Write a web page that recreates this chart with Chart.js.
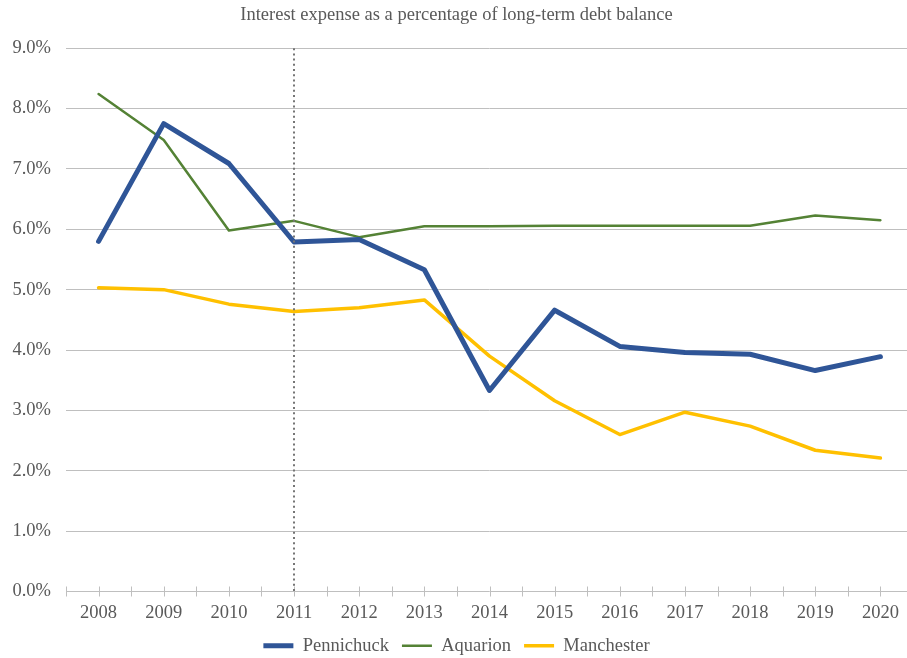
<!DOCTYPE html>
<html>
<head>
    <title>Interest expense</title>
    <script src="https://cdn.jsdelivr.net/npm/chart.js@4.4.0/dist/chart.umd.min.js"></script>
    <style>
        body { margin: 0; background: #fff; }
        #clip { width: 907px; height: 658px; overflow: hidden; }
        #box { width: 934px; height: 658px; position: relative; }
    </style>
</head>
<body>
    <div id="clip"><div id="box"><canvas id="rateChart"></canvas></div></div>

    <script>
        // data
        var years = ['2008', '2009', '2010', '2011', '2012', '2013', '2014', '2015', '2016', '2017', '2018', '2019', '2020'];
        var pennichuck = [5.80, 7.75, 7.09, 5.79, 5.83, 5.33, 3.33, 4.66, 4.06, 3.96, 3.93, 3.66, 3.89];
        var aquarion = [8.24, 7.48, 5.98, 6.14, 5.87, 6.05, 6.05, 6.06, 6.06, 6.06, 6.06, 6.23, 6.15];
        var manchester = [5.03, 5.00, 4.76, 4.64, 4.70, 4.83, 3.90, 3.16, 2.60, 2.97, 2.74, 2.34, 2.21];
        var yTicks = [0, 1, 2, 3, 4, 5, 6, 7, 8, 9];
        var markerYear = '2011';

        var textGrey = '#595959';
        var serif = 'Liberation Serif, Times New Roman, serif';

        // x axis tick marks (at category centres and boundaries) + dotted 2011 line
        var extras = {
            id: 'extras',
            afterDatasetsDraw: function (chart) {
                var ctx = chart.ctx;
                var x = chart.scales.x;
                var area = chart.chartArea;
                var step = x.getPixelForValue(1) - x.getPixelForValue(0);
                ctx.save();
                ctx.strokeStyle = '#bfbfbf';
                ctx.lineWidth = 1;
                ctx.beginPath();
                for (var i = 0; i < years.length; i++) {
                    var px = Math.round(x.getPixelForValue(i)) + 0.5;
                    ctx.moveTo(px, area.bottom - 5);
                    ctx.lineTo(px, area.bottom + 5);
                    var bx = Math.round(x.getPixelForValue(i) - step / 2) + 0.5;
                    ctx.moveTo(bx, area.bottom - 5);
                    ctx.lineTo(bx, area.bottom + 5);
                }
                ctx.stroke();

                var mx = Math.round(x.getPixelForValue(years.indexOf(markerYear)));
                ctx.strokeStyle = '#757575';
                ctx.lineWidth = 2;
                ctx.setLineDash([2, 3.2]);
                ctx.beginPath();
                ctx.moveTo(mx, area.top);
                ctx.lineTo(mx, area.bottom);
                ctx.stroke();
                ctx.restore();
            }
        };

        var ctx = document.getElementById('rateChart').getContext('2d');
        var chart = new Chart(ctx, {
            type: 'line',
            data: {
                labels: years,
                datasets: [{
                    label: 'Pennichuck',
                    data: pennichuck,
                    borderColor: '#2f5597',
                    borderWidth: 5
                }, {
                    label: 'Aquarion',
                    data: aquarion,
                    borderColor: '#548235',
                    borderWidth: 2.5
                }, {
                    label: 'Manchester',
                    data: manchester,
                    borderColor: '#ffc000',
                    borderWidth: 3.5
                }]
            },
            options: {
                responsive: true,
                maintainAspectRatio: false,
                animation: false,
                layout: { padding: { left: 0, right: 21, top: 0, bottom: -7 } },
                elements: {
                    point: { radius: 0, hoverRadius: 0 },
                    line: { tension: 0, borderCapStyle: 'round', borderJoinStyle: 'round', fill: false }
                },
                plugins: {
                    title: {
                        display: true,
                        text: 'Interest expense as a percentage of long-term debt balance',
                        color: textGrey,
                        font: { family: serif, size: 18.5, weight: 'normal' },
                        padding: { top: 4, bottom: 22 }
                    },
                    legend: {
                        position: 'bottom',
                        labels: {
                            usePointStyle: true,
                            pointStyle: 'line',
                            pointStyleWidth: 30,
                            color: textGrey,
                            font: { family: serif, size: 18.5 },
                            padding: 13
                        }
                    },
                    tooltip: { enabled: false }
                },
                scales: {
                    x: {
                        offset: true,
                        grid: { display: false, drawTicks: false },
                        border: { display: false },
                        ticks: {
                            color: textGrey,
                            font: { family: serif, size: 18.5 },
                            padding: 11,
                            maxRotation: 0
                        },
                        afterFit: function (scale) { scale.height = 32; }
                    },
                    y: {
                        min: 0,
                        max: 9,
                        afterBuildTicks: function (scale) {
                            scale.ticks = yTicks.map(function (v) { return { value: v }; });
                        },
                        grid: { color: '#bfbfbf', lineWidth: 1, drawTicks: false },
                        border: { display: false },
                        ticks: {
                            color: textGrey,
                            font: { family: serif, size: 18.5 },
                            padding: 15,
                            callback: function (v) { return v.toFixed(1) + '%'; }
                        },
                        afterFit: function (scale) { scale.width = 66; }
                    }
                }
            },
            plugins: [extras]
        });
    </script>
</body>
</html>
